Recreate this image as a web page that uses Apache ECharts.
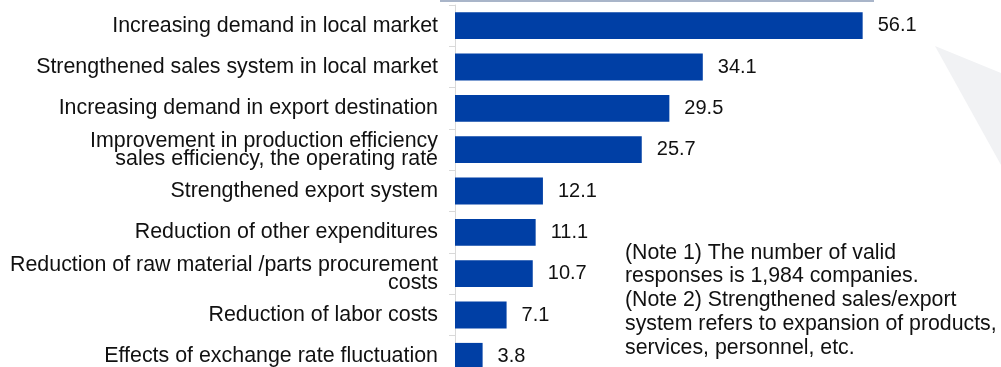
<!DOCTYPE html>
<html>
<head>
<meta charset="utf-8">
<style>
  html, body { margin: 0; padding: 0; background: #ffffff; }
  #chart { width: 1001px; height: 367px; }
</style>
<script src="https://cdn.jsdelivr.net/npm/echarts@6/dist/echarts.min.js"></script>
</head>
<body>
<div id="chart"></div>
<script>
// Factors behind improved operating profit (%), listed top to bottom
const categories = [
  'Increasing demand in local market',
  'Strengthened sales system in local market',
  'Increasing demand in export destination',
  'Improvement in production efficiency\nsales efficiency, the operating rate',
  'Strengthened export system',
  'Reduction of other expenditures',
  'Reduction of raw material /parts procurement\ncosts',
  'Reduction of labor costs',
  'Effects of exchange rate fluctuation'
];
const values = [56.1, 34.1, 29.5, 25.7, 12.1, 11.1, 10.7, 7.1, 3.8];
const notes = [
  '(Note 1) The number of valid',
  'responses is 1,984 companies.',
  '(Note 2) Strengthened sales/export',
  'system refers to expansion of products,',
  'services, personnel, etc.'
];

const FONT = '"Liberation Sans", Arial, Helvetica, sans-serif';
const chart = echarts.init(document.getElementById('chart'), null, { renderer: 'canvas' });

chart.setOption({
  animation: false,
  backgroundColor: '#ffffff',
  textStyle: { fontFamily: FONT },
  // the last row runs past the bottom edge of the canvas
  grid: {
    left: 455, top: 5, width: 436, height: 372,
    containLabel: false,
    outerBoundsMode: 'none'
  },
  xAxis: {
    type: 'value',
    min: 0,
    max: 60,
    show: false
  },
  yAxis: {
    type: 'category',
    data: categories,
    inverse: true,
    axisLine: { show: true, lineStyle: { color: '#d9d9d9', width: 1 } },
    axisTick: { show: true, length: 6, lineStyle: { color: '#d9d9d9' } },
    axisLabel: {
      margin: 17,
      fontSize: 21.4,
      lineHeight: 18,
      color: '#111111',
      fontFamily: FONT,
      align: 'right'
    },
    splitLine: { show: false }
  },
  series: [{
    type: 'bar',
    data: values,
    barCategoryGap: '35%',
    itemStyle: { color: '#003fa5' },
    label: {
      show: true,
      position: 'right',
      distance: 15,
      fontSize: 20,
      color: '#111111',
      fontFamily: FONT,
      formatter: p => p.value.toFixed(1)
    }
  }],
  graphic: [
    {
      type: 'polygon',
      silent: true,
      z: -10,
      shape: { points: [[935, 46], [1001, 73], [1001, 165]] },
      style: { fill: '#f1f2f4' }
    },
    {
      type: 'rect',
      silent: true,
      shape: { x: 440, y: 0, width: 434, height: 2 },
      style: { fill: '#a9b5c9' }
    },
    {
      type: 'text',
      silent: true,
      left: 625,
      top: 241,
      style: {
        text: notes.join('\n'),
        fontSize: 21.3,
        lineHeight: 23.7,
        fontFamily: FONT,
        fill: '#111111'
      }
    }
  ]
});
</script>
</body>
</html>
